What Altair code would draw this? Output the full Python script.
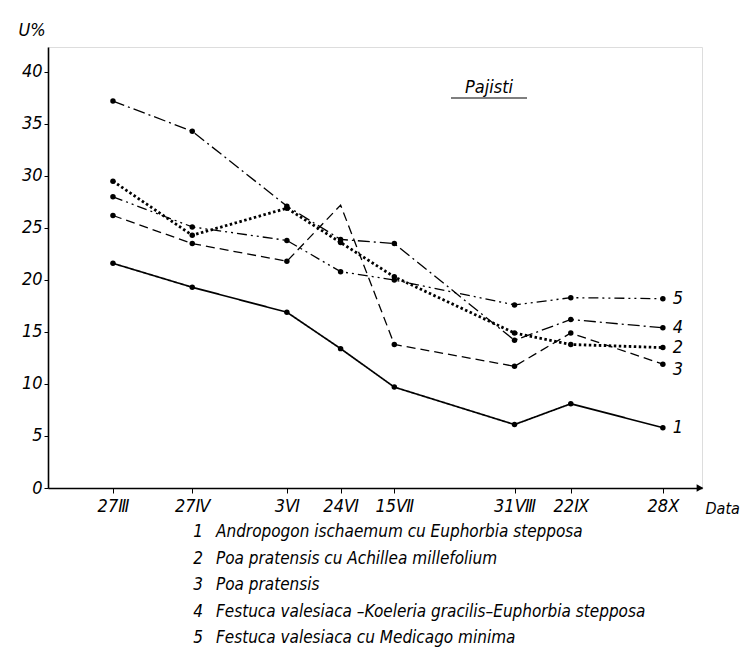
import altair as alt
import pandas as pd

# ---- data ----
date_labels = ["27Ⅲ", "27Ⅳ", "3Ⅵ", "24Ⅵ", "15Ⅶ", "31Ⅷ", "22Ⅸ", "28Ⅹ"]
day_of_year = [86, 117, 154, 175, 196, 243, 265, 301]
series_ids = ["1", "2", "3", "4", "5"]
s1 = [21.6, 19.3, 16.9, 13.4, 9.7, 6.1, 8.1, 5.8]
s2 = [29.5, 24.3, 26.9, 23.6, 20.3, 14.9, 13.8, 13.5]
s3 = [26.2, 23.5, 21.8, 27.2, 13.8, 11.7, 14.9, 11.9]
s4 = [37.2, 34.3, 27.1, 23.9, 23.5, 14.2, 16.2, 15.4]
s5 = [28.0, 25.1, 23.8, 20.8, 20.0, 17.6, 18.3, 18.2]
s3_marked = [True, True, True, False, True, True, True, True]
names = [
    "Andropogon ischaemum  cu Euphorbia stepposa",
    "Poa pratensis cu Achillea millefolium",
    "Poa pratensis",
    "Festuca valesiaca –Koeleria gracilis–Euphorbia stepposa",
    "Festuca valesiaca cu Medicago minima",
]
y_ticks = [0, 5, 10, 15, 20, 25, 30, 35, 40]

FONT = "'DejaVu Sans Condensed', 'Liberation Sans Narrow', 'DejaVu Sans', sans-serif"

# line styles per series (dash pattern, width)
styles = {
    "1": ([1, 0], 1.7),
    "2": ([2.5, 2.5], 2.8),
    "3": ([9, 5], 1.3),
    "4": ([12, 4, 2, 4], 1.3),
    "5": ([10, 4, 2, 4, 2, 4], 1.3),
}

rows = []
all_series = [s1, s2, s3, s4, s5]
for sid, vals in zip(series_ids, all_series):
    for i, (d, v) in enumerate(zip(day_of_year, vals)):
        marked = s3_marked[i] if sid == "3" else True
        rows.append({"series": sid, "day": d, "value": v, "marked": marked,
                     "last": i == len(day_of_year) - 1})
df = pd.DataFrame(rows)

label_expr = " : ".join(
    f"datum.value == {d} ? '{l}'" for d, l in zip(day_of_year, date_labels)
) + " : ''"

x_enc = alt.X(
    "day:Q",
    scale=alt.Scale(domain=[60.6, 316.3], nice=False, zero=False),
    axis=alt.Axis(
        values=day_of_year, labelExpr=label_expr, grid=False,
        domainColor="black", domainWidth=1.6, tickColor="black", tickSize=5,
        labelFont=FONT, labelFontStyle="italic", labelFontSize=18,
        labelColor="black", labelPadding=4, labelFlush=False,
        title="Data", titleFont=FONT, titleFontStyle="italic",
        titleFontWeight="normal", titleFontSize=16, titleColor="black",
        titleX=657, titleY=28, titleAlign="left", titleBaseline="bottom",
    ),
)
y_enc = alt.Y(
    "value:Q",
    scale=alt.Scale(domain=[0, 42.4], nice=False),
    axis=alt.Axis(
        values=y_ticks, grid=False, domainColor="black", domainWidth=1.6,
        tickColor="black", tickSize=4, labelFont=FONT,
        labelFontStyle="italic", labelFontSize=18, labelColor="black",
        labelPadding=2,
        title="U%", titleFont=FONT, titleFontStyle="italic",
        titleFontWeight="normal", titleFontSize=18, titleColor="black",
        titleAngle=0, titleX=-30, titleY=-17, titleAlign="left",
        titleBaseline="middle",
    ),
)

base = alt.Chart(df)

line_layers = []
for sid in series_ids:
    dash, width = styles[sid]
    line_layers.append(
        base.transform_filter(f"datum.series == '{sid}'").mark_line(
            color="black", strokeDash=dash, strokeWidth=width
        ).encode(x=x_enc, y=y_enc)
    )

points = base.transform_filter("datum.marked").mark_circle(
    color="black", size=30, opacity=1
).encode(x="day:Q", y="value:Q")

end_labels = base.transform_filter("datum.last && datum.series != '3'").mark_text(
    font=FONT, fontStyle="italic", fontSize=18, align="left", dx=10,
    baseline="middle", color="black",
).encode(x="day:Q", y="value:Q", text="series:N")
end_label3 = base.transform_filter("datum.last && datum.series == '3'").mark_text(
    font=FONT, fontStyle="italic", fontSize=18, align="left", dx=10, dy=6,
    baseline="middle", color="black",
).encode(x="day:Q", y="value:Q", text="series:N")

one = pd.DataFrame({"t": ["Pajisti"]})
title_txt = alt.Chart(one).mark_text(
    font=FONT, fontStyle="italic", fontSize=18, color="black",
    align="center", baseline="middle",
).encode(x=alt.value(441), y=alt.value(41), text="t:N")
underline = alt.Chart(one).mark_rule(color="black", strokeWidth=1.2).encode(
    x=alt.value(403), x2=alt.value(479), y=alt.value(51)
)
arrow = alt.Chart(one).mark_point(
    shape="triangle-right", filled=True, color="black", size=60, opacity=1
).encode(x=alt.value(652), y=alt.value(441))

leg_df = pd.DataFrame({
    "nums": ["\n".join(series_ids)],
    "names": ["\n".join(names)],
})
leg_nums = alt.Chart(leg_df).mark_text(
    font=FONT, fontStyle="italic", fontSize=17, color="black",
    align="center", baseline="middle", lineBreak="\n", lineHeight=26.5,
).encode(x=alt.value(150), y=alt.value(485), text="nums:N")
leg_names = alt.Chart(leg_df).mark_text(
    font=FONT, fontStyle="italic", fontSize=17, color="black",
    align="left", baseline="middle", lineBreak="\n", lineHeight=26.5,
).encode(x=alt.value(168), y=alt.value(485), text="names:N")

chart = alt.layer(
    *line_layers, points, end_labels, end_label3, title_txt, underline, arrow,
    leg_nums, leg_names
).properties(
    width=654, height=441, autosize="none",
    padding={"left": 40, "top": 39, "right": 42, "bottom": 162},
).configure_view(stroke=None).configure(background="white")

chart.save("out.html", embed_options={"renderer": "svg", "actions": False})
